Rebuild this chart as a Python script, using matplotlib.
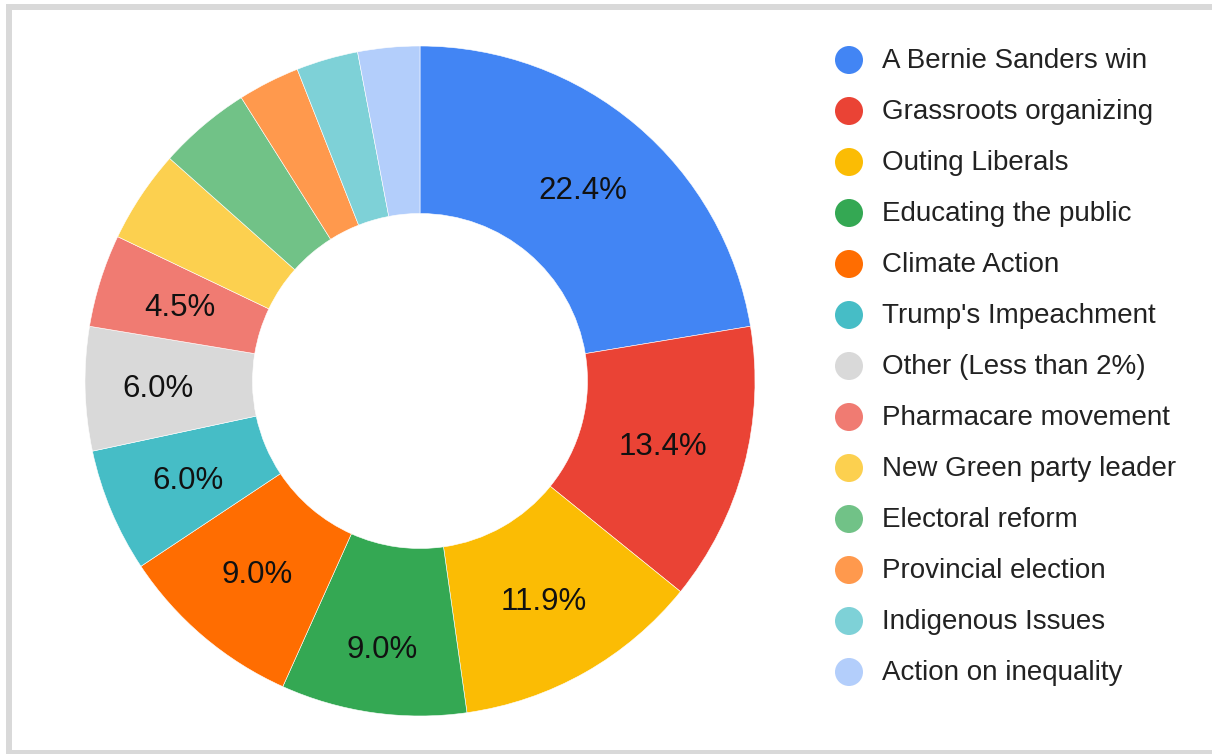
import matplotlib
matplotlib.use("Agg")
import numpy as np
from matplotlib import pyplot as plt
from matplotlib.patches import Rectangle, Circle

plt.rcParams['font.family'] = ['Liberation Sans', 'DejaVu Sans']

# survey answers (counts out of 67 responses)
labels = ["A Bernie Sanders win", "Grassroots organizing", "Outing Liberals",
          "Educating the public", "Climate Action", "Trump's Impeachment",
          "Other (Less than 2%)", "Pharmacare movement", "New Green party leader",
          "Electoral reform", "Provincial election", "Indigenous Issues",
          "Action on inequality"]
counts = [15, 9, 8, 6, 6, 4, 4, 3, 3, 3, 2, 2, 2]
colors = ["#4285F4", "#EA4335", "#FBBC04", "#34A853", "#FF6D01", "#46BDC6",
          "#D9D9D9", "#F07B72", "#FCD04F", "#71C287", "#FF994D", "#7ED1D7",
          "#B3CEFB"]
SHOW_LABEL = 8  # only the first slices get a percentage

W, H = 1212, 754
fig = plt.figure(figsize=(W / 100, H / 100), dpi=100)

# donut: centre (420, 381) px, radius 335 px
cx, cy, r = 420, 381, 335
ax = fig.add_axes([(cx - r) / W, (H - cy - r) / H, 2 * r / W, 2 * r / H])
total = sum(counts)

wedges, _ = ax.pie(counts, colors=colors, startangle=90, counterclock=False,
                   radius=1.0, wedgeprops=dict(width=0.5, edgecolor="white", linewidth=0.4))
ax.set_xlim(-1, 1)
ax.set_ylim(-1, 1)
ax.set_aspect("equal")
ax.axis("off")

# a couple of labels sit a bit further out in the original
label_r = {3: 0.805, 6: 0.782}
for i, w in enumerate(wedges[:SHOW_LABEL]):
    ang = np.deg2rad((w.theta1 + w.theta2) / 2)
    pct = 100 * counts[i] / total
    rr = label_r.get(i, 0.75)
    ax.text(rr * np.cos(ang), rr * np.sin(ang) - 0.006, f"{pct:.1f}%",
            ha="center", va="center", fontsize=22.5, color="#111111")

# overlay in pixel coords for frame + legend
ov = fig.add_axes([0, 0, 1, 1], facecolor="none")
ov.set_xlim(0, W)
ov.set_ylim(H, 0)
ov.axis("off")

border = "#D9D9D9"
ov.add_patch(Rectangle((6, 4), 6, 760, color=border, lw=0))
ov.add_patch(Rectangle((6, 4), 1300, 6, color=border, lw=0))
ov.add_patch(Rectangle((6, 750), 1300, 8, color=border, lw=0))

y0, step = 60, 51
for i, (lab, c) in enumerate(zip(labels, colors)):
    y = y0 + i * step
    ov.add_patch(Circle((849, y), 14, color=c, lw=0))
    ov.text(882, y + 1, lab, ha="left", va="center", fontsize=20, color="#222222")

fig.savefig("out.png", dpi=100)
